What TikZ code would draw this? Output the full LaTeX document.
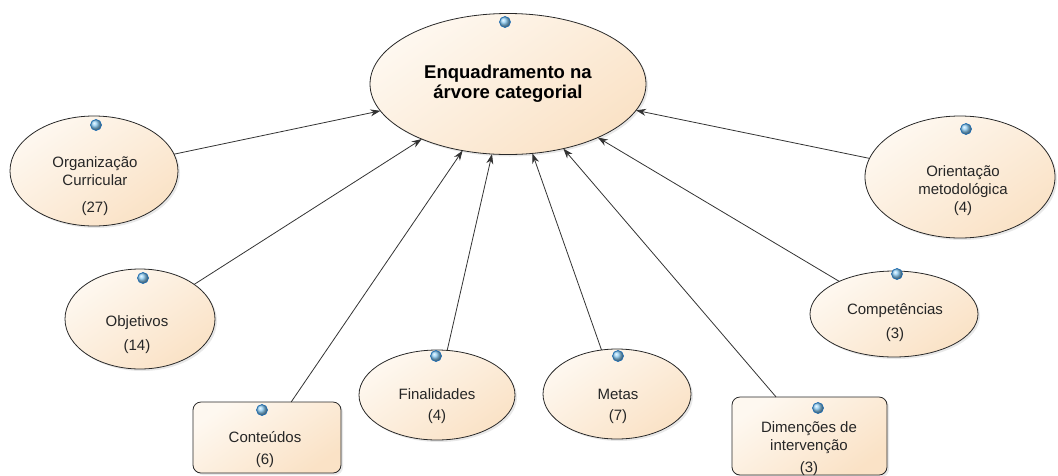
\documentclass[tikz,border=0pt]{standalone}
\usepackage{fontspec}
\setmainfont{Liberation Sans}
\usetikzlibrary{shapes.geometric,arrows.meta,shadows}
\definecolor{peachlight}{RGB}{254,248,240}
\definecolor{peach}{RGB}{250,226,198}
\definecolor{edge}{RGB}{40,40,40}
\definecolor{dotblue}{RGB}{140,205,245}
\definecolor{dotedge}{RGB}{30,110,180}
\tikzset{
  cat/.style={ellipse,draw=edge,line width=0.8pt,inner sep=0pt,outer sep=0pt,
    top color=peachlight,bottom color=peach,shading angle=35,
    drop shadow={opacity=0.18,shadow xshift=2pt,shadow yshift=-2pt}},
  catbox/.style={rectangle,rounded corners=8pt,draw=edge,line width=0.8pt,inner sep=0pt,outer sep=0pt,
    top color=peachlight,bottom color=peach,shading angle=35,
    drop shadow={opacity=0.18,shadow xshift=2pt,shadow yshift=-2pt}},
  cattext/.style={align=center,inner sep=0pt,font=\fontsize{15}{18}\selectfont,text=black!85},
  dot/.style={circle,minimum size=11pt,inner sep=0pt,draw=dotedge,line width=0.7pt,shading=ball,ball color=dotblue},
  conn/.style={draw=black!80,line width=0.8pt,-{Stealth[length=10pt,width=7pt]}}
}
\begin{document}
\begin{tikzpicture}[x=1pt,y=1pt,yscale=-1,xscale=1]
\useasboundingbox (0,0) rectangle (1058,475);
%Shape: Ellipse [central]
\node[cat,minimum width=276,minimum height=141] (main) at (508,84) {};
\node[align=center,inner sep=0pt,font=\fontsize{18.5}{20.5}\selectfont\bfseries] (maintext) at (508,84) {Enquadramento na\\árvore categorial};
\node[dot] (maindot) at (505,22) {};
%Shape: Ellipse
\node[cat,minimum width=168,minimum height=110] (org) at (94,171) {};
\node[cattext] (orgtext) at (95,186) {Organização\\Curricular\\[9pt](27)};
\node[dot] (orgdot) at (96,125) {};
%Shape: Ellipse
\node[cat,minimum width=150,minimum height=100] (obj) at (140,319) {};
\node[cattext] (objtext) at (137,335) {Objetivos\\[6pt](14)};
\node[dot] (objdot) at (143,278) {};
%Shape: Rectangle
\node[catbox,minimum width=148,minimum height=71] (cont) at (267,437.5) {};
\node[cattext] (conttext) at (265,450) {Conteúdos\\[4pt](6)};
\node[dot] (contdot) at (262,410) {};
%Shape: Ellipse
\node[cat,minimum width=156,minimum height=90] (fin) at (437,395) {};
\node[cattext] (fintext) at (437,406) {Finalidades\\[3pt](4)};
\node[dot] (findot) at (436,356) {};
%Shape: Ellipse
\node[cat,minimum width=148,minimum height=90] (metas) at (617,394) {};
\node[cattext] (metastext) at (618,406) {Metas\\[3pt](7)};
\node[dot] (metasdot) at (618,356) {};
%Shape: Rectangle
\node[catbox,minimum width=155,minimum height=78] (dim) at (809.5,436) {};
\node[cattext] (dimtext) at (809,449) {Dimenções de\\intervenção\\[4pt](3)};
\node[dot] (dimdot) at (818,408) {};
%Shape: Ellipse
\node[cat,minimum width=168,minimum height=86] (comp) at (894,314) {};
\node[cattext] (comptext) at (895,323) {Competências\\[6pt](3)};
\node[dot] (compdot) at (897,274) {};
%Shape: Ellipse
\node[cat,minimum width=190,minimum height=122] (ori) at (960,177) {};
\node[cattext] (oritext) at (963,191) {Orientação\\metodológica\\(4)};
\node[dot] (oridot) at (966,129) {};
%Straight Lines
\draw[conn] (org) -- (main);
\draw[conn] (obj) -- (main);
\draw[conn] (cont) -- (main);
\draw[conn] (fin) -- (main);
\draw[conn] (metas) -- (main);
\draw[conn] (dim) -- (main);
\draw[conn] (comp) -- (main);
\draw[conn] (ori) -- (main);
\end{tikzpicture}
\end{document}
